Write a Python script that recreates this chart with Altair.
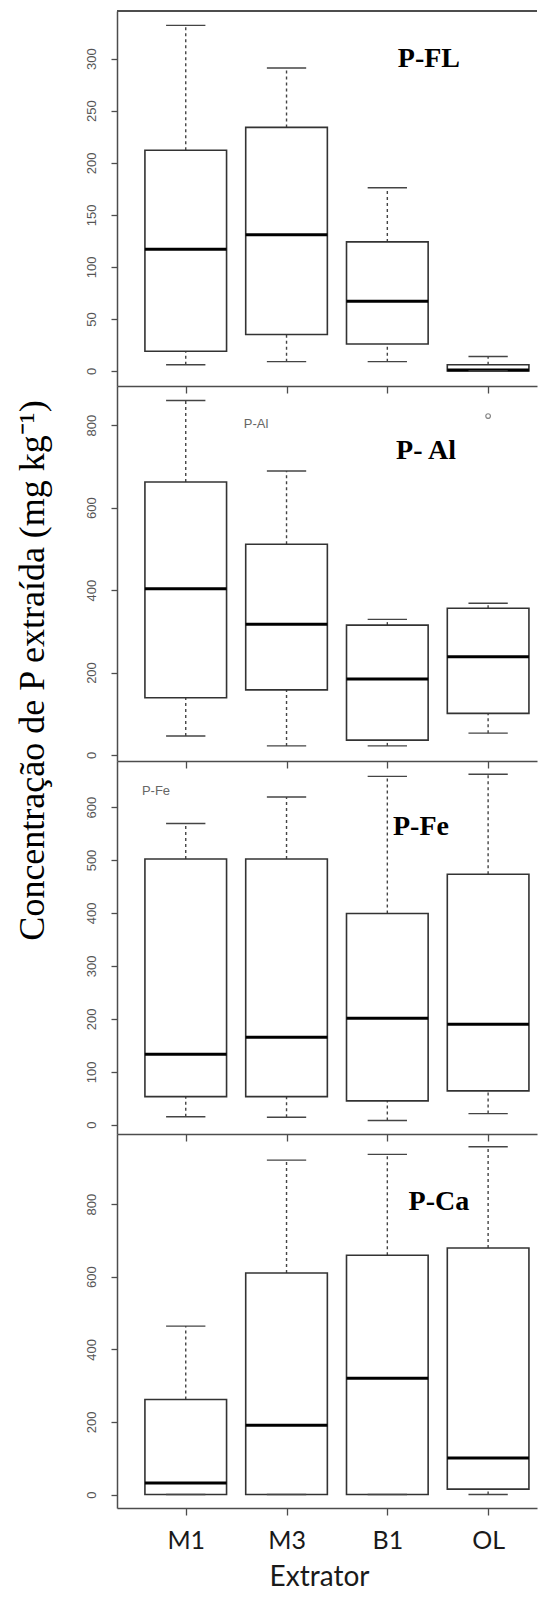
import json
import altair as alt
import pandas as pd

# ---------------- data ----------------
categories = ["M1", "M3", "B1", "OL"]

panel_titles = ["P-FL", "P- Al", "P-Fe", "P-Ca"]

fl_low = [6, 9, 9, 0]
fl_q1 = [19, 35, 26, 0]
fl_med = [117, 131, 67, 1]
fl_q3 = [212, 234, 124, 6]
fl_high = [332, 291, 176, 14]

al_low = [46, 22, 22, 53]
al_q1 = [139, 158, 36, 101]
al_med = [403, 317, 184, 238]
al_q3 = [662, 511, 315, 356]
al_high = [860, 689, 329, 368]
al_out_cat = ["OL"]
al_out_val = [822]

fe_low = [15, 14, 8, 21]
fe_q1 = [53, 53, 45, 64]
fe_med = [133, 165, 201, 190]
fe_q3 = [502, 502, 399, 473]
fe_high = [569, 619, 658, 662]

ca_low = [0, 0, 0, 0]
ca_q1 = [0, 0, 0, 15]
ca_med = [32, 191, 320, 101]
ca_q3 = [262, 610, 659, 679]
ca_high = [464, 921, 937, 958]

fl_ticks = [0, 50, 100, 150, 200, 250, 300]
al_ticks = [0, 200, 400, 600, 800]
fe_ticks = [0, 100, 200, 300, 400, 500, 600]
ca_ticks = [0, 200, 400, 600, 800]

y_title = "Concentração de P extraída (mg kg⁻¹)"
x_title = "Extrator"

PLOT_W = 420
heights = [375, 375, 373, 374]
y_domains = [[-14.4, 345.8], [-14.6, 895], [-17.5, 687], [-37, 993]]
x_domain = [0.318, 4.485]
big_label_pos = [(3.413, 300), (3.384, 737), (3.334, 562), (3.512, 807)]
small_labels = [None, ("P-Al", 1.697, 803), ("P-Fe", 0.705, 630), None]

panels_data = [
    (fl_low, fl_q1, fl_med, fl_q3, fl_high, fl_ticks),
    (al_low, al_q1, al_med, al_q3, al_high, al_ticks),
    (fe_low, fe_q1, fe_med, fe_q3, fe_high, fe_ticks),
    (ca_low, ca_q1, ca_med, ca_q3, ca_high, ca_ticks),
]

label_expr = json.dumps(categories) + "[datum.value - 1]"
AXIS_GRAY = "#4d4d4d"


def make_panel(k):
    low, q1, med, q3, high, ticks = panels_data[k]
    df = pd.DataFrame({
        "cat": categories,
        "i": list(range(1, len(categories) + 1)),
        "low": low, "q1": q1, "med": med, "q3": q3, "high": high,
    })
    xscale = alt.Scale(domain=x_domain, nice=False, zero=False)
    yscale = alt.Scale(domain=y_domains[k], nice=False, zero=False)

    yaxis_kw = dict(
        values=ticks, tickSize=6, tickWidth=1.3, tickColor=AXIS_GRAY,
        domainColor=AXIS_GRAY, domainWidth=1.5, grid=False,
        labelAngle=270, labelAlign="center", labelBaseline="alphabetic",
        labelPadding=16, labelFontSize=13, labelFont="Liberation Sans",
        labelColor="#555555", labelFlush=False, labelOverlap=False,
    )
    if k == 1:
        yaxis_kw.update(
            title=y_title, titleFont="Liberation Serif", titleFontSize=36,
            titleFontWeight="normal", titleColor="black", titleAngle=270,
            titleX=-85, titleY=284, titleAlign="center", titleBaseline="middle",
        )
    else:
        yaxis_kw.update(title="")
    yaxis = alt.Axis(**yaxis_kw)

    xaxis_kw = dict(
        values=list(range(1, len(categories) + 1)), tickSize=7, tickWidth=1.3,
        tickColor=AXIS_GRAY, domainColor=AXIS_GRAY, domainWidth=1.5, grid=False,
    )
    if k == 3:
        xaxis_kw.update(
            labels=True, labelExpr=label_expr, labelFont="Lato", labelFontSize=25,
            labelColor="#1a1a1a", labelPadding=13, labelFlush=False,
            title=x_title, titleFont="Lato", titleFontSize=28,
            titleFontWeight="normal", titleColor="#1a1a1a",
            titleX=202, titleY=77, titleAlign="center", titleBaseline="alphabetic",
        )
    else:
        xaxis_kw.update(labels=False, title="")
    xaxis = alt.Axis(**xaxis_kw)

    def X(f):
        return alt.X(f, type="quantitative", scale=xscale, axis=xaxis)

    def Y(f):
        return alt.Y(f, type="quantitative", scale=yscale, axis=yaxis)

    base = alt.Chart(df).transform_calculate(
        x_lo="datum.i - 0.405", x_hi="datum.i + 0.405",
        c_lo="datum.i - 0.195", c_hi="datum.i + 0.195",
    )

    whisk_up = base.mark_rule(color="#444", strokeWidth=1.4, strokeDash=[3, 3]).encode(
        x=X("i"), y=Y("q3"), y2="high:Q")
    whisk_lo = base.mark_rule(color="#444", strokeWidth=1.4, strokeDash=[3, 3]).encode(
        x=X("i"), y=Y("low"), y2="q1:Q")
    box = base.mark_rect(fill="white", stroke="#333333", strokeWidth=1.6).encode(
        x=X("x_lo"), x2="x_hi:Q", y=Y("q1"), y2="q3:Q")
    median = base.mark_rule(color="black", strokeWidth=3).encode(
        x=X("x_lo"), x2="x_hi:Q", y=Y("med"))
    cap_hi = base.mark_rule(color="#444", strokeWidth=1.4).encode(
        x=X("c_lo"), x2="c_hi:Q", y=Y("high"))
    cap_lo = base.mark_rule(color="#444", strokeWidth=1.4).encode(
        x=X("c_lo"), x2="c_hi:Q", y=Y("low"))

    lab_df = pd.DataFrame({
        "label": [panel_titles[k]],
        "lx": [big_label_pos[k][0]],
        "ly": [big_label_pos[k][1]],
    })
    big = alt.Chart(lab_df).mark_text(
        font="Liberation Serif", fontWeight="bold", fontSize=28, color="black",
        align="center", baseline="middle",
    ).encode(x=X("lx"), y=Y("ly"), text="label:N")

    layers = [whisk_up, whisk_lo, box, median, cap_hi, cap_lo, big]

    if small_labels[k] is not None:
        s_text, sx, sy = small_labels[k]
        s_df = pd.DataFrame({"label": [s_text], "lx": [sx], "ly": [sy]})
        layers.append(alt.Chart(s_df).mark_text(
            font="Liberation Sans", fontSize=13, color="#666666",
            align="center", baseline="middle",
        ).encode(x=X("lx"), y=Y("ly"), text="label:N"))

    if k == 1:
        out_df = pd.DataFrame({"cat": al_out_cat, "val": al_out_val})
        out_df["i"] = [categories.index(c) + 1 for c in out_df["cat"]]
        layers.append(alt.Chart(out_df).mark_point(
            shape="circle", size=22, filled=False, color="#555", strokeWidth=1.2,
        ).encode(x=X("i"), y=Y("val")))

    if k == 0:
        layers.append(base.mark_rule(color=AXIS_GRAY, strokeWidth=1.5).encode(
            x=alt.value(0), x2=alt.value(PLOT_W), y=alt.value(0)))

    return alt.layer(*layers).properties(width=PLOT_W, height=heights[k])


chart = alt.vconcat(
    *[make_panel(k) for k in range(4)], spacing=0, bounds="flush"
).properties(
    padding={"left": 5, "top": 2, "right": 0, "bottom": 3},
    background="white",
).configure_view(strokeWidth=0)

chart.save("out.html", embed_options={"renderer": "svg", "actions": False})
